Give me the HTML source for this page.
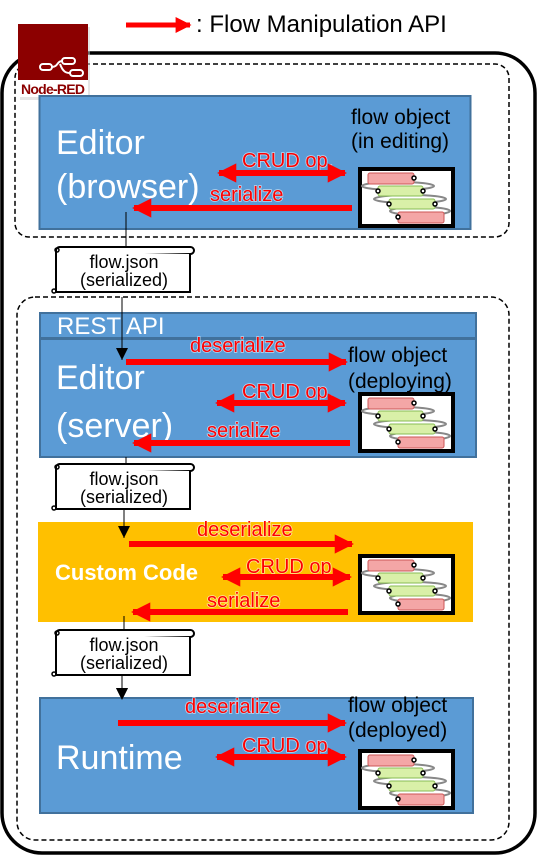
<!DOCTYPE html>
<html><head><meta charset="utf-8"><style>
html,body{margin:0;padding:0;background:#fff;}
svg{display:block;}
text{font-family:"Liberation Sans","DejaVu Sans",sans-serif;}
.red{fill:#ff0000;stroke:#fff;stroke-width:1.5px;paint-order:stroke;stroke-opacity:.6;font-size:20px;}
.big{fill:#fff;font-size:34px;}
.blk{fill:#000;font-size:21px;}
.js{fill:#000;font-size:18px;}
</style></head><body>
<svg width="540" height="856" viewBox="0 0 540 856" xmlns="http://www.w3.org/2000/svg">
<defs>
<marker id="ah" viewBox="0 0 10 10" refX="9" refY="5" markerWidth="3.2" markerHeight="3.6" orient="auto-start-reverse" markerUnits="strokeWidth">
<path d="M0,0 L10,5 L0,10 z" fill="#ff0000"/></marker>
<marker id="bh" viewBox="0 0 10 10" refX="10" refY="5" markerWidth="12" markerHeight="14" orient="auto" markerUnits="userSpaceOnUse">
<path d="M0,0 L10,5 L0,10 z" fill="#000"/></marker>
<g id="flow">
<rect x="2" y="2" width="93" height="57" fill="#fff" stroke="#000" stroke-width="4"/>
<g fill="none" stroke="#888" stroke-width="2">
<ellipse cx="40" cy="19" rx="36" ry="4"/>
<ellipse cx="52" cy="32" rx="36" ry="4"/>
<ellipse cx="62" cy="44" rx="30" ry="4"/>
</g>
<rect x="10" y="6" width="46" height="11" rx="2" fill="#f4a6a6" stroke="#c55" stroke-width="1"/>
<rect x="20" y="19" width="45" height="10" rx="2" fill="#d9f0a8" stroke="#8b5" stroke-width="1"/>
<rect x="31" y="32" width="46" height="10" rx="2" fill="#d9f0a8" stroke="#8b5" stroke-width="1"/>
<rect x="40" y="45" width="46" height="11" rx="2" fill="#f4a6a6" stroke="#c55" stroke-width="1"/>
<g fill="#fff" stroke="#000" stroke-width="1.5">
<circle cx="56" cy="11" r="2"/><circle cx="20" cy="24" r="2"/><circle cx="65" cy="24" r="2"/>
<circle cx="31" cy="37" r="2"/><circle cx="77" cy="37" r="2"/><circle cx="40" cy="50" r="2"/>
</g>
</g>
<g id="scroll">
<rect x="4" y="3" width="138" height="7" rx="3.5" fill="#fff" stroke="#000" stroke-width="2"/>
<path d="M4,7 L4,48 L138,48 L138,10" fill="#fff" stroke="#000" stroke-width="2"/>
<circle cx="5" cy="6" r="2" fill="none" stroke="#000" stroke-width="1.5"/>
<circle cx="2" cy="47" r="2" fill="none" stroke="#000" stroke-width="1.5"/>
</g>
</defs>

<line x1="126" y1="25" x2="190" y2="25" stroke="#ff0000" stroke-width="5" marker-end="url(#ah)"/>
<text x="196" y="32" font-size="24" fill="#000">: Flow Manipulation API</text>

<rect x="2" y="53" width="533" height="800" rx="40" fill="none" stroke="#000" stroke-width="3.5"/>
<rect x="15" y="64" width="494" height="173" rx="14" fill="none" stroke="#000" stroke-width="1.5" stroke-dasharray="5,3"/>
<rect x="17" y="297" width="492" height="543" rx="18" fill="none" stroke="#000" stroke-width="1.5" stroke-dasharray="5,3"/>

<rect x="20" y="27" width="70" height="73" fill="#ccc" opacity=".5"/>
<rect x="18" y="24" width="70" height="73" fill="#8c0000"/>
<rect x="18" y="80" width="70" height="17" fill="#fff"/>
<text x="53" y="94" text-anchor="middle" font-size="14" font-weight="bold" fill="#8c0000" font-family="Liberation Serif" textLength="64">Node-RED</text>
<g fill="none" stroke="#fff" stroke-width="2">
<rect x="40" y="64" width="12" height="6" rx="3"/>
<rect x="62" y="58" width="13" height="6" rx="3"/>
<rect x="70" y="70" width="13" height="6" rx="3"/>
<path d="M52,67 C58,67 57,61 62,61 M60,64 C63,72 66,73 70,73"/>
</g>

<rect x="39.5" y="96" width="431" height="133" fill="#5b9bd5" stroke="#41719c" stroke-width="2"/>
<text class="big" x="56" y="154">Editor</text>
<text class="big" x="56" y="198">(browser)</text>
<text class="blk" x="351" y="124">flow object</text>
<text class="blk" x="351" y="148">(in editing)</text>
<text class="red" x="242" y="167">CRUD op.</text>
<line x1="219" y1="173" x2="345" y2="173" stroke="#ff0000" stroke-width="6" marker-start="url(#ah)" marker-end="url(#ah)"/>
<text class="red" x="210" y="201">serialize</text>
<line x1="352" y1="208" x2="134" y2="208" stroke="#ff0000" stroke-width="6" marker-end="url(#ah)"/>
<use href="#flow" x="358" y="167"/>
<line x1="126" y1="212" x2="126" y2="246" stroke="#000" stroke-width="1"/>
<use href="#scroll" x="52" y="244"/>
<text class="js" x="124" y="268" text-anchor="middle">flow.json</text>
<text class="js" x="124" y="286" text-anchor="middle">(serialized)</text>

<rect x="40" y="313" width="436" height="25" fill="#5b9bd5" stroke="#41719c" stroke-width="2"/>
<text x="57" y="334" font-size="24" fill="#fff">REST API</text>
<rect x="40" y="339" width="436" height="118" fill="#5b9bd5" stroke="#41719c" stroke-width="2"/>
<text class="big" x="56" y="389">Editor</text>
<text class="big" x="56" y="437">(server)</text>
<text class="blk" x="348" y="362">flow object</text>
<text class="blk" x="348" y="388">(deploying)</text>
<text class="red" x="190" y="352">deserialize</text>
<line x1="126" y1="362" x2="346" y2="362" stroke="#ff0000" stroke-width="6" marker-end="url(#ah)"/>
<text class="red" x="242" y="398">CRUD op.</text>
<line x1="217" y1="403" x2="345" y2="403" stroke="#ff0000" stroke-width="6" marker-start="url(#ah)" marker-end="url(#ah)"/>
<text class="red" x="207" y="437">serialize</text>
<line x1="350" y1="443" x2="134" y2="443" stroke="#ff0000" stroke-width="6" marker-end="url(#ah)"/>
<use href="#flow" x="358" y="392"/>
<line x1="122" y1="297" x2="122" y2="360" stroke="#000" stroke-width="1" marker-end="url(#bh)"/>
<line x1="126" y1="457" x2="126" y2="463" stroke="#000" stroke-width="1"/>
<use href="#scroll" x="52" y="461"/>
<text class="js" x="124" y="485" text-anchor="middle">flow.json</text>
<text class="js" x="124" y="503" text-anchor="middle">(serialized)</text>
<line x1="124" y1="510" x2="124" y2="538" stroke="#000" stroke-width="1" marker-end="url(#bh)"/>

<rect x="38" y="522" width="435" height="100" fill="#ffc000"/>
<line x1="124" y1="522" x2="124" y2="538" stroke="#000" stroke-width="1" marker-end="url(#bh)"/>
<text x="55" y="580" font-size="22" font-weight="bold" fill="#fff">Custom Code</text>
<text class="red" x="197" y="536">deserialize</text>
<line x1="129" y1="544" x2="352" y2="544" stroke="#ff0000" stroke-width="6" marker-end="url(#ah)"/>
<text class="red" x="246" y="573">CRUD op.</text>
<line x1="223" y1="577" x2="350" y2="577" stroke="#ff0000" stroke-width="6" marker-start="url(#ah)" marker-end="url(#ah)"/>
<text class="red" x="207" y="607">serialize</text>
<line x1="348" y1="612" x2="133" y2="612" stroke="#ff0000" stroke-width="6" marker-end="url(#ah)"/>
<use href="#flow" x="358" y="554"/>
<line x1="124" y1="616" x2="124" y2="629" stroke="#000" stroke-width="1"/>
<use href="#scroll" x="52" y="627"/>
<text class="js" x="124" y="651" text-anchor="middle">flow.json</text>
<text class="js" x="124" y="669" text-anchor="middle">(serialized)</text>
<line x1="122" y1="676" x2="122" y2="700" stroke="#000" stroke-width="1" marker-end="url(#bh)"/>

<rect x="40" y="698" width="433" height="115" fill="#5b9bd5" stroke="#41719c" stroke-width="2"/>
<path d="M116,688 L128,688 L122,700 z" fill="#000"/>
<text class="big" x="56" y="769">Runtime</text>
<text class="blk" x="348" y="712">flow object</text>
<text class="blk" x="348" y="737">(deployed)</text>
<text class="red" x="185" y="713">deserialize</text>
<line x1="118" y1="723" x2="345" y2="723" stroke="#ff0000" stroke-width="6" marker-end="url(#ah)"/>
<text class="red" x="242" y="752">CRUD op.</text>
<line x1="217" y1="757" x2="345" y2="757" stroke="#ff0000" stroke-width="6" marker-start="url(#ah)" marker-end="url(#ah)"/>
<use href="#flow" x="358" y="749"/>
</svg>
</body></html>
